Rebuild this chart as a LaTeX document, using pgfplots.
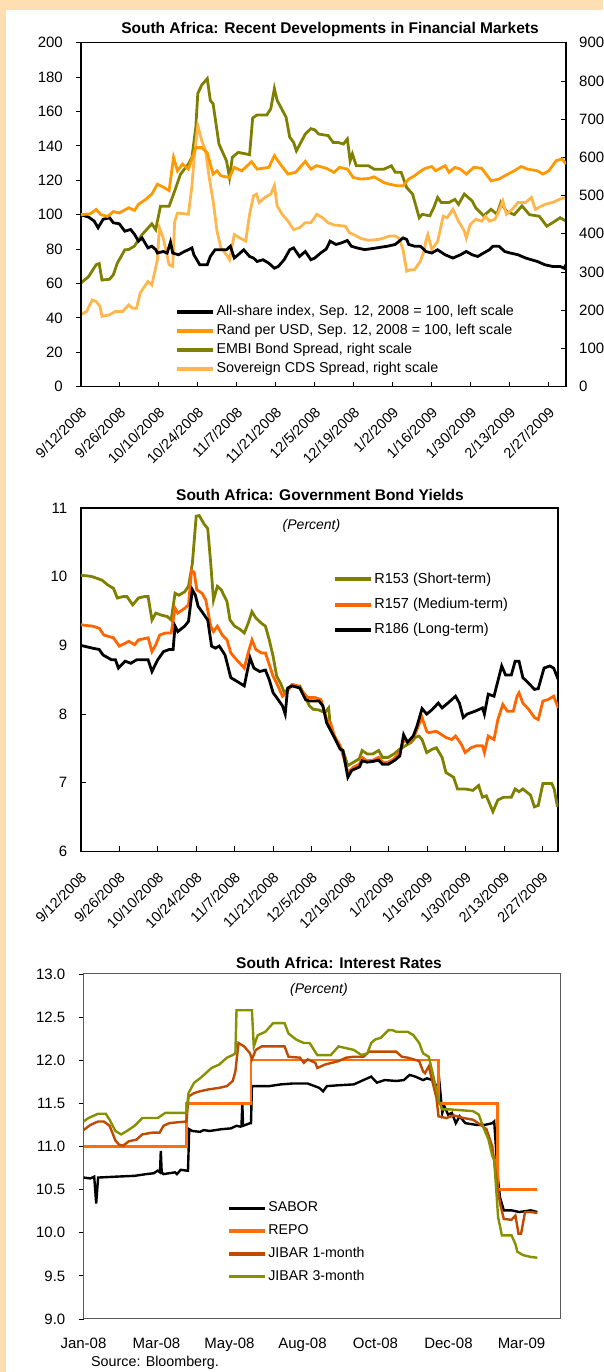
\documentclass[border=0pt]{standalone}
\usepackage{fontspec}
\setmainfont{Liberation Sans}
\usepackage{pgfplots}
\pgfplotsset{compat=1.18}
\definecolor{peach}{RGB}{255,223,178}
\definecolor{randc}{RGB}{255,153,0}
\definecolor{olivec}{RGB}{128,128,0}
\definecolor{cdsc}{RGB}{255,183,77}
\definecolor{rmed}{RGB}{255,102,0}
\definecolor{repoc}{RGB}{255,110,10}
\definecolor{jibone}{RGB}{190,75,0}
\definecolor{jibthree}{RGB}{135,145,0}
\pgfplotsset{
 base/.style={
  scale only axis, anchor=south west,
  tick label style={font=\fontsize{15}{16}\selectfont},
  /pgf/number format/assume math mode=true,
  major tick length=5pt,
  tick style={black, line width=0.8pt},
  legend cell align=left,
  legend style={draw=none, fill=none, inner sep=0pt, outer sep=0pt, anchor=north west,
     nodes={inner sep=0pt, text height=10.5pt, text depth=3pt},
     /tikz/every odd column/.append style={column sep=3.5pt}},
  legend image code/.code={\fill[##1, draw=none] (0pt,-1.9pt) rectangle (36pt,1.9pt);},
 },
 rotlab/.style={xticklabel style={font=\fontsize{14.5}{15}\selectfont, inner sep=0pt, anchor=east, xshift=3pt, yshift=-23pt, rotate=45}},
}
\begin{document}
\begin{tikzpicture}
\useasboundingbox (0,0) rectangle (603pt,1372pt);
\fill[peach] (0,0) rectangle (603pt,1372pt);
\fill[white] (6pt,0) rectangle (603pt,1362pt);
% ---------------- Panel 1 : right scale
\begin{axis}[base, at={(80.8pt,985.3pt)}, width=485.2pt, height=344pt,
  xmin=0, xmax=174.2, ymin=0, ymax=900,
  hide x axis, axis y line*=right,
  ytick={0,100,...,900}, ytick align=inside,
  y axis line style={line width=1.5pt},
  yticklabel style={anchor=west, inner sep=0pt, xshift=13pt},
]
\addplot[olivec, line width=2.8pt] coordinates {
(0,271)(2.8,288)(5.5,319)(6.6,322)(7.6,279)(10.3,281)(11.7,293)(13.1,323)(15.8,358)(17.2,359)
(19.3,368)(22.0,398)(25.5,426)(26.9,411)(28.6,472)(31.7,472)(33.7,512)(35.8,556)(38.6,582)(39.9,600)
(41.3,679)(42.0,767)(43.4,789)(45.4,806)(46.5,749)(47.5,740)(49.6,635)(52.3,591)(53.4,547)(54.4,600)
(56.5,613)(60.6,607)(61.7,703)(63.3,711)(66.8,711)(68.2,727)(69.5,780)(70.5,749)(73.7,705)(75.0,653)
(76.4,639)(77.4,617)(80.6,661)(82.6,675)(84.0,672)(85.4,661)(88.8,657)(90.6,639)(92.3,639)(94.3,635)
(95.7,648)(96.7,591)(97.5,609)(98.9,578)(103.3,578)(105.3,569)(108.8,569)(111.5,578)(112.9,561)(115.0,561)
(117.0,521)(119.1,504)(120.5,468)(121.5,442)(122.6,451)(125.3,447)(126.7,468)(128.1,495)(129.4,482)(132.2,482)
(134.3,490)(135.6,477)(137.7,504)(140.5,486)(141.8,468)(144.6,447)(147.3,464)(149.4,451)(150.8,482)(152.8,459)
(155.6,450)(158.4,473)(161.1,450)(164.6,446)(167.3,420)(169.4,429)(172.1,442)(174.2,433)};
\addplot[cdsc, line width=2.8pt] coordinates {
(0,188)(2.1,197)(4.1,227)(5.5,223)(6.9,210)(7.6,184)(10.3,188)(12.4,197)(15.1,197)(17.2,214)
(18.6,205)(20.0,205)(21.3,245)(24.1,275)(25.5,266)(27.5,332)(28.2,416)(29.6,389)(31.7,319)(33.0,315)
(33.7,432)(34.7,454)(36.5,453)(38.6,451)(39.9,525)(40.6,591)(42.0,683)(43.4,644)(44.8,617)(46.1,547)
(47.5,486)(48.9,407)(50.3,363)(52.3,345)(53.4,332)(55.1,398)(57.1,389)(59.2,381)(60.6,451)(62.0,499)
(63.1,504)(64.0,482)(66.1,495)(68.2,504)(69.5,526)(70.5,473)(72.3,451)(74.4,433)(76.4,411)(78.5,416)
(80.6,429)(82.6,429)(84.7,451)(86.8,442)(88.8,429)(90.9,423)(95.0,420)(96.4,403)(98.5,396)(100.5,388)
(103.3,383)(106.7,385)(108.8,389)(110.8,394)(112.9,394)(114.3,388)(115.7,358)(117.0,302)(118.4,306)(119.8,306)
(121.9,328)(123.2,354)(123.9,381)(124.6,398)(126.0,359)(128.1,380)(130.1,446)(131.5,442)(133.6,464)(135.6,433)
(137.7,407)(138.4,389)(139.8,424)(141.8,438)(143.9,433)(145.3,446)(146.7,433)(148.7,438)(150.1,459)(151.5,486)
(152.8,451)(154.9,464)(157.0,482)(159.7,482)(161.8,495)(163.2,464)(166.6,477)(169.4,482)(172.1,491)(174.2,495)};
\end{axis}
% ---------------- Panel 1 : left scale
\begin{axis}[base, rotlab, at={(80.8pt,985.3pt)}, width=485.2pt, height=344pt,
  xmin=0, xmax=174.2, ymin=0, ymax=200,
  axis line style={line width=1.5pt},
  xtick={0,14,...,168},
  xticklabels={9/12/2008,9/26/2008,10/10/2008,10/24/2008,11/7/2008,11/21/2008,12/5/2008,12/19/2008,1/2/2009,1/16/2009,1/30/2009,2/13/2009,2/27/2009},
  xtick pos=left, ytick pos=left,
  xtick align=inside, ytick align=outside,
  ytick={0,20,...,200},
  yticklabel style={anchor=east, inner sep=0pt, xshift=-12.8pt},
  legend style={at={(0.1983,0.2366)}, font=\fontsize{14.3}{15}\selectfont, row sep=5.5pt},
]
\addplot[black, line width=2.8pt] coordinates {
(0,100)(2.8,98.6)(4.8,96.3)(6.2,92.4)(8.0,97.3)(10.3,98.2)(11.7,95.3)(13.8,94.7)(15.8,90.4)(17.9,91.4)
(19.3,88.5)(20.7,84.6)(22.0,86.5)(24.1,80.7)(25.5,81.7)(26.9,79.7)(27.5,77.7)(29.6,78.6)(31.0,77.7)(32.2,84)
(33.0,77.7)(35.1,76.7)(37.2,78.6)(38.6,79.6)(39.9,80.7)(40.6,76.7)(42.7,70.9)(45.4,70.9)(46.5,75.7)(48.2,79.6)
(50.3,79.6)(52.3,79.6)(53.7,81.7)(55.1,74.8)(56.5,76.7)(58.5,79.6)(60.6,75.7)(62.0,74.8)(63.3,72.8)(65.4,73.8)
(67.5,71.8)(69.5,68.9)(70.9,69.9)(73.0,73.8)(75.0,79.6)(76.4,80.7)(78.5,75.7)(80.6,78.6)(82.6,73.8)(84.0,74.8)
(86.1,77.7)(88.1,80.0)(89.5,84.6)(91.6,82.7)(93.6,83.6)(95.7,85.0)(97.1,81.7)(99.1,80.7)(101.9,79.7)(104.7,80.3)
(107.4,81.0)(110.2,81.7)(112.9,82.7)(115.7,86.5)(117.0,85.6)(117.7,82.7)(119.8,81.7)(121.9,81.7)(123.9,78.6)(126.0,77.7)
(128.1,79.6)(130.8,76.7)(133.6,74.8)(136.3,76.7)(138.4,78.6)(140.5,76.7)(142.5,75.7)(144.6,77.7)(146.7,79.6)(148.0,81.7)
(150.1,81.7)(152.2,78.6)(154.2,77.7)(157.0,76.7)(159.7,74.8)(161.8,73.8)(163.9,72.8)(166.6,70.9)(169.4,69.9)(172.1,69.9)
(173.5,68.9)(174.2,70.9)};
\addlegendentry{All-share index, Sep. 12, 2008 = 100, left scale}
\addplot[randc, line width=2.8pt] coordinates {
(0,100)(3.4,100.5)(5.5,103)(7.2,100)(9.6,99)(11.7,101.8)(13.8,101)(17.2,104)(19.3,102.5)(20.7,106)
(23.4,109)(25.5,112)(27.5,117.7)(29.6,116)(31.7,114)(33.3,133.3)(34.7,125.5)(36.5,129.4)(38.6,126.5)(41.3,139)
(43.4,139)(45.4,136)(47.5,123.6)(48.9,125.5)(50.3,122.6)(53.4,121.6)(55.1,127.5)(57.8,125.5)(61.3,130.8)(63.3,126.5)
(67.5,127.5)(69.5,134.3)(71.6,129.4)(74.4,123.6)(77.1,124.6)(80.6,131)(82.6,126.5)(84.7,128.5)(88.1,127)(90.9,124.6)
(92.9,127.5)(95.7,126.5)(97.8,121.6)(100.5,120.7)(103.3,121)(105.3,122)(108.8,118.7)(110.8,117.7)(113.6,116.8)(115.7,116.8)
(117.7,120.7)(119.8,122.6)(122.6,126)(123.9,127)(126.0,128)(127.4,125.5)(130.8,128.5)(132.2,124.6)(134.3,127.5)(136.3,126.5)
(138.4,123.6)(141.1,127.5)(143.9,127)(147.3,119.7)(150.1,120.7)(152.2,122.6)(155.6,125.5)(158.1,128)(160.4,126.5)(163.9,125.5)
(165.9,123.6)(168.0,125.5)(170.7,131.4)(172.8,132.4)(174.2,129.4)};
\addlegendentry{Rand per USD, Sep. 12, 2008 = 100, left scale}
\addlegendimage{olivec}
\addlegendentry{EMBI Bond Spread, right scale}
\addlegendimage{cdsc}
\addlegendentry{Sovereign CDS Spread, right scale}
\end{axis}
% ---------------- Panel 2
\begin{axis}[base, rotlab, at={(80.8pt,520.5pt)}, width=477.5pt, height=343.5pt,
  xmin=0, xmax=173.8, ymin=6, ymax=11, ytick={6,...,11},
  axis line style={line width=1.8pt},
  xtick={0,14,...,168},
  xticklabels={9/12/2008,9/26/2008,10/10/2008,10/24/2008,11/7/2008,11/21/2008,12/5/2008,12/19/2008,1/2/2009,1/16/2009,1/30/2009,2/13/2009,2/27/2009},
  xtick pos=left, ytick pos=left, tick align=inside,
  yticklabel style={anchor=east, inner sep=0pt, xshift=-13.3pt},
  legend style={at={(0.532,0.812)}, font=\fontsize{14.5}{15}\selectfont, row sep=11.8pt},
]
\addplot[olivec, line width=2.8pt] coordinates {
(0,10.02)(2.8,10.01)(4.2,10.0)(5.6,9.98)(7.7,9.95)(9.8,9.88)(11.9,9.83)(13.3,9.69)(15.4,9.71)(16.8,9.71)
(18.9,9.59)(21.0,9.69)(23.1,9.71)(24.5,9.71)(25.9,9.37)(27.3,9.47)(29.4,9.44)(31.5,9.42)(32.9,9.37)(34.3,9.76)
(35.7,9.73)(37.8,9.78)(39.2,9.86)(40.6,10.19)(42.0,10.88)(43.1,10.89)(44.8,10.77)(46.2,10.70)(47.3,10.19)(48.3,9.66)
(49.7,9.86)(51.1,9.81)(53.2,9.64)(54.3,9.37)(56.0,9.28)(58.1,9.23)(59.5,9.18)(60.9,9.32)(62.3,9.49)(63.7,9.40)
(65.8,9.32)(67.2,9.28)(68.6,9.08)(70.0,8.84)(71.3,8.55)(72.7,8.45)(74.1,8.31)(75.3,8.36)(76.9,8.43)(78.3,8.41)
(79.7,8.41)(81.8,8.24)(83.2,8.12)(84.6,8.07)(86.7,8.06)(88.8,8.02)(90.2,8.09)(90.9,7.80)(92.3,7.68)(94.4,7.51)
(95.4,7.47)(97.2,7.25)(99.3,7.30)(101.4,7.35)(102.4,7.47)(104.2,7.42)(106.3,7.42)(108.4,7.47)(109.8,7.37)(111.9,7.37)
(114.0,7.42)(116.1,7.49)(118.2,7.54)(120.3,7.59)(121.7,7.66)(123.1,7.68)(124.2,7.63)(125.9,7.44)(128.0,7.49)(129.4,7.51)
(131.5,7.37)(132.9,7.15)(135.7,7.08)(137.1,6.91)(139.9,6.91)(142.7,6.89)(144.8,6.96)(146.2,6.79)(147.6,6.81)(150.0,6.58)
(151.8,6.75)(153.9,6.79)(156.7,6.79)(158.1,6.91)(159.5,6.87)(160.9,6.91)(163.7,6.82)(165.1,6.65)(166.5,6.67)(168.2,6.99)
(171.4,6.99)(172.3,6.91)(173.5,6.65)};
\addlegendentry{R153 (Short-term)}
\addplot[rmed, line width=2.8pt] coordinates {
(0,9.30)(4.2,9.28)(6.7,9.25)(8.4,9.15)(11.9,9.11)(14.0,8.99)(16.1,9.03)(17.5,9.06)(19.6,9.01)(21.0,9.08)
(24.5,9.11)(25.9,8.91)(27.3,9.01)(28.7,9.15)(30.8,9.18)(32.9,9.18)(34.3,9.54)(35.3,9.47)(37.8,9.54)(39.2,9.59)
(40.3,10.09)(41.3,10.06)(42.2,9.81)(44.1,9.76)(45.5,9.66)(47.3,9.28)(48.3,9.20)(49.7,9.28)(51.5,9.15)(53.2,9.08)
(54.6,8.89)(56.7,8.79)(59.5,8.67)(60.9,8.89)(62.3,9.08)(63.7,8.94)(65.8,8.89)(67.2,8.89)(68.6,8.72)(70.0,8.55)
(71.3,8.45)(73.4,8.26)(74.8,8.31)(76.9,8.43)(79.0,8.41)(81.1,8.31)(82.5,8.24)(85.3,8.24)(87.4,8.21)(89.5,7.92)
(90.9,7.87)(92.3,7.68)(94.4,7.54)(95.8,7.35)(97.2,7.15)(99.3,7.23)(101.4,7.27)(102.4,7.37)(104.2,7.32)(106.3,7.33)
(108.4,7.37)(109.8,7.30)(111.9,7.30)(114.0,7.35)(116.1,7.44)(117.5,7.61)(119.6,7.59)(121.7,7.71)(123.1,7.85)(124.2,7.95)
(125.9,7.75)(126.6,7.73)(129.4,7.75)(132.9,7.66)(135.0,7.63)(136.4,7.68)(138.5,7.56)(139.9,7.44)(142.0,7.51)(144.1,7.54)
(146.2,7.54)(146.9,7.44)(148.3,7.68)(150.4,7.63)(151.8,7.92)(153.6,8.14)(155.3,8.04)(157.4,8.04)(158.8,8.26)(159.5,8.31)
(160.9,8.16)(163.0,8.07)(165.1,7.95)(166.5,7.92)(168.2,8.19)(170.0,8.21)(172.1,8.26)(173.8,8.09)};
\addlegendentry{R157 (Medium-term)}
\addplot[black, line width=2.8pt] coordinates {
(0,9.00)(4.2,8.96)(6.7,8.94)(8.1,8.86)(11.2,8.79)(12.6,8.79)(13.7,8.67)(16.1,8.77)(18.2,8.74)(20.3,8.79)
(24.5,8.79)(25.9,8.62)(28.0,8.79)(30.1,8.91)(32.2,8.94)(33.6,8.94)(34.3,9.28)(35.3,9.20)(37.8,9.28)(39.2,9.35)
(40.6,9.81)(41.7,9.73)(42.7,9.57)(44.1,9.49)(46.2,9.37)(47.6,8.99)(49.0,8.96)(50.4,8.99)(52.5,8.86)(54.6,8.53)
(56.7,8.48)(59.5,8.41)(61.6,8.82)(63.0,8.67)(65.1,8.62)(67.2,8.64)(68.6,8.50)(70.0,8.31)(71.3,8.24)(73.4,8.12)
(74.4,8.00)(75.3,8.38)(76.9,8.41)(79.7,8.38)(81.8,8.21)(83.2,8.19)(86.7,8.19)(88.1,8.12)(89.5,7.87)(92.3,7.66)
(94.4,7.49)(95.4,7.47)(97.2,7.08)(98.6,7.18)(101.4,7.23)(102.4,7.32)(104.2,7.30)(106.3,7.31)(108.4,7.33)(109.8,7.27)
(111.9,7.27)(114.0,7.32)(116.1,7.39)(117.5,7.70)(118.9,7.59)(121.0,7.68)(122.4,7.83)(124.2,8.08)(125.9,8.00)(128.0,8.07)
(130.1,8.16)(131.5,8.09)(133.6,8.16)(136.4,8.26)(137.8,8.16)(139.2,7.95)(140.6,8.00)(143.4,8.04)(146.2,8.09)(146.9,8.00)
(148.3,8.29)(150.4,8.26)(151.8,8.48)(153.2,8.70)(154.6,8.57)(156.7,8.57)(158.1,8.77)(159.5,8.77)(160.9,8.53)(163.0,8.45)
(165.1,8.36)(166.5,8.37)(168.6,8.67)(170.7,8.70)(172.1,8.67)(173.8,8.50)};
\addlegendentry{R186 (Long-term)}
\end{axis}
% ---------------- Panel 3
\begin{axis}[base, at={(83.5pt,53pt)}, width=476.5pt, height=345pt,
  xmin=0, xmax=476.5, ymin=9, ymax=13, ytick={9,9.5,...,13},
  axis line style={black!65, line width=1pt},
  xtick={0,73,146,219,292,365,438},
  xticklabels={Jan-08,Mar-08,May-08,Aug-08,Oct-08,Dec-08,Mar-09},
  xtick style={draw=none}, ytick pos=left, ytick align=outside,
  yticklabel style={/pgf/number format/fixed, /pgf/number format/fixed zerofill, /pgf/number format/precision=1},
  yticklabel style={anchor=east, inner sep=0pt, xshift=-13pt},
  xticklabel style={anchor=north, inner sep=0pt, yshift=-18.5pt},
  legend image code/.code={\fill[#1, draw=none] (0pt,-1.6pt) rectangle (36pt,1.6pt);},
  legend style={at={(0.305,0.341)}, font=\fontsize{14.2}{15}\selectfont, row sep=9.4pt},
]
\addplot[black, line width=2.4pt] coordinates {
(0,10.64)(6.9,10.63)(10.7,10.65)(12.7,10.34)(14.6,10.64)(31.9,10.65)(51.1,10.66)(62.7,10.68)(70.3,10.69)(74.2,10.72)
(76.5,10.70)(77.3,10.95)(78.2,10.70)(80.0,10.68)(85.7,10.69)(91.5,10.70)(93.4,10.68)(97.3,10.73)(103.0,10.72)(104.5,10.72)
(105.7,11.20)(108.8,11.18)(116.5,11.17)(120.3,11.19)(126.1,11.18)(137.6,11.20)(147.3,11.21)(153.0,11.24)(156.9,11.23)(158.0,11.24)
(158.8,11.50)(159.6,11.24)(166.5,11.27)(167.5,11.27)(168.4,11.70)(174.2,11.70)(185.7,11.70)(197.3,11.72)(208.8,11.73)(224.2,11.73)
(235.7,11.68)(239.6,11.64)(243.4,11.70)(255.0,11.71)(270.3,11.72)(278.0,11.76)(287.7,11.81)(293.4,11.74)(301.1,11.77)(312.7,11.76)
(320.3,11.77)(326.1,11.83)(331.9,11.81)(339.6,11.77)(343.4,11.79)(349.2,11.77)(353.0,11.68)(355.7,11.77)(358.8,11.39)(360.7,11.47)
(364.6,11.37)(368.4,11.39)(372.3,11.27)(376.1,11.35)(381.9,11.27)(393.4,11.25)(401.1,11.25)(408.8,11.27)(410.7,11.29)(414.6,10.61)
(416.5,10.41)(420.3,10.26)(428.0,10.26)(435.7,10.24)(447.3,10.26)(453.8,10.24)};
\addlegendentry{SABOR}
\addplot[repoc, line width=2.4pt] coordinates {
(0,11.0)(103,11.0)(103,11.5)(167.7,11.5)(167.7,12.0)(355,12.0)(355,11.5)(413.8,11.5)(413.8,10.5)(453.8,10.5)};
\addlegendentry{REPO}
\addplot[jibone, line width=2.4pt] coordinates {
(0,11.19)(6.9,11.25)(14.6,11.29)(20.3,11.29)(26.1,11.24)(31.9,11.07)(35.7,11.02)(39.6,11.01)(45.3,11.06)(53.0,11.08)
(58.8,11.14)(68.4,11.16)(76.1,11.16)(80.0,11.24)(85.7,11.27)(93.4,11.28)(103.0,11.29)(105.0,11.58)(110.7,11.62)(116.5,11.64)
(124.2,11.66)(135.7,11.68)(143.4,11.70)(149.2,11.76)(151.9,11.87)(155.0,12.20)(160.7,12.16)(166.5,12.08)(168.4,12.01)(172.3,12.12)
(178.0,12.16)(201.1,12.16)(205.0,12.04)(216.5,12.03)(220.3,11.97)(224.2,12.01)(231.9,11.97)(233.8,11.91)(241.5,11.95)(255.0,11.99)
(262.7,12.03)(270.3,12.04)(280.0,12.04)(285.7,12.10)(301.1,12.10)(312.7,12.10)(318.4,12.04)(324.2,12.03)(330.0,12.01)(335.7,11.99)
(339.6,11.87)(341.5,11.85)(345.3,11.93)(349.2,11.74)(353.0,11.56)(355.0,11.35)(362.7,11.33)(370.3,11.36)(380.0,11.33)(389.6,11.31)
(397.3,11.25)(403.0,11.20)(408.8,11.00)(412.7,10.65)(416.5,10.34)(420.3,10.16)(428.0,10.15)(431.9,10.20)(435.0,9.99)(437.6,9.99)
(441.5,10.24)(447.3,10.24)(453.8,10.23)};
\addlegendentry{JIBAR 1-month}
\addplot[jibthree, line width=2.4pt] coordinates {
(0,11.29)(5.0,11.33)(14.6,11.38)(22.3,11.38)(26.1,11.31)(31.9,11.18)(37.7,11.14)(43.4,11.18)(51.1,11.24)(58.8,11.33)
(68.4,11.33)(74.2,11.33)(81.9,11.39)(93.4,11.39)(103.0,11.39)(105.0,11.62)(110.7,11.74)(116.5,11.79)(122.3,11.85)(128.0,11.91)
(135.7,11.95)(143.4,12.03)(149.2,12.06)(151.9,12.08)(153.0,12.58)(168.4,12.58)(170.3,12.16)(174.2,12.29)(181.9,12.33)(189.6,12.43)
(201.1,12.43)(205.0,12.31)(212.7,12.24)(220.3,12.20)(226.1,12.20)(233.8,12.06)(247.3,12.06)(255.0,12.16)(262.7,12.14)(270.3,12.12)
(278.0,12.06)(283.8,12.08)(287.7,12.20)(291.5,12.24)(297.3,12.26)(305.0,12.35)(308.8,12.35)(312.7,12.33)(324.2,12.33)(330.0,12.29)
(335.7,12.20)(339.6,12.08)(345.3,12.04)(349.2,11.85)(355.0,11.54)(358.8,11.43)(366.5,11.43)(378.0,11.42)(389.6,11.41)(395.3,11.37)
(399.2,11.24)(405.0,11.08)(408.8,10.89)(410.7,10.84)(414.6,10.18)(418.4,9.97)(428.0,9.97)(431.9,9.87)(433.8,9.78)(439.6,9.74)
(447.3,9.72)(453.8,9.71)};
\addlegendentry{JIBAR 3-month}
\end{axis}
% ---------------- Titles and notes
\node[font=\bfseries\fontsize{15.5}{16}\selectfont] at (330pt,1342.7pt) {South Africa: Recent Developments in Financial Markets};
\node[font=\bfseries\fontsize{15.5}{16}\selectfont] at (320pt,877pt) {South Africa: Government Bond Yields};
\node[font=\itshape\fontsize{14}{15}\selectfont] at (311.5pt,846.3pt) {(Percent)};
\node[font=\bfseries\fontsize{15.5}{16}\selectfont] at (339pt,409.3pt) {South Africa: Interest Rates};
\node[font=\itshape\fontsize{14}{15}\selectfont] at (319pt,382pt) {(Percent)};
\node[font=\fontsize{14.3}{15}\selectfont, anchor=west, inner sep=0pt] at (91pt,9pt) {Source: Bloomberg.};
\end{tikzpicture}
\end{document}
